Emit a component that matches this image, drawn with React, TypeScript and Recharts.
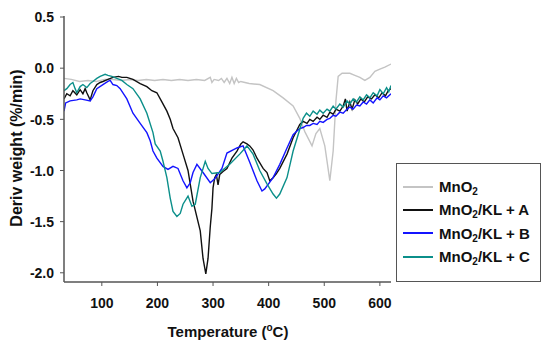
import React from "react";
import { LineChart, Line, XAxis, YAxis } from "recharts";

// Temperature (°C) / Deriv weight (%/min)
const mno2T = [32, 45, 60, 75, 90, 105, 120, 135, 150, 165, 180, 195, 210, 225, 240, 255, 270, 285, 295, 298, 302, 310, 315, 320, 325, 330, 334, 338, 342, 346, 350, 365, 384, 408, 426, 444, 456, 465, 478, 485, 492, 501, 510, 516, 521, 525, 532, 546, 555, 564, 573, 582, 591, 600, 609, 620];
const mno2V = [-0.10, -0.11, -0.13, -0.12, -0.13, -0.11, -0.11, -0.12, -0.11, -0.12, -0.11, -0.12, -0.11, -0.12, -0.11, -0.12, -0.11, -0.12, -0.09, -0.14, -0.11, -0.12, -0.10, -0.14, -0.10, -0.15, -0.09, -0.15, -0.10, -0.14, -0.13, -0.15, -0.16, -0.22, -0.29, -0.37, -0.49, -0.62, -0.76, -0.64, -0.59, -0.76, -1.10, -0.81, -0.32, -0.08, -0.05, -0.05, -0.07, -0.09, -0.12, -0.09, -0.03, -0.01, 0.01, 0.04];

const aT = [32, 37, 43, 48, 55, 61, 66, 70, 73, 79, 84, 91, 97, 102, 111, 120, 130, 136, 145, 156, 169, 181, 190, 199, 208, 217, 223, 228, 237, 246, 255, 264, 277, 282, 287, 291, 295, 298, 300, 303, 306, 309, 312, 318, 325, 334, 343, 350, 354, 361, 366, 372, 379, 390, 397, 402, 408, 414, 420, 433, 444, 456, 462, 469, 474, 480, 487, 492, 498, 505, 510, 516, 521, 528, 534, 538, 541, 546, 550, 555, 560, 566, 572, 578, 585, 591, 598, 604, 610, 615, 620];
const aV = [-0.30, -0.25, -0.27, -0.22, -0.26, -0.21, -0.25, -0.20, -0.24, -0.31, -0.22, -0.16, -0.14, -0.13, -0.11, -0.09, -0.08, -0.09, -0.09, -0.11, -0.15, -0.18, -0.22, -0.24, -0.33, -0.42, -0.50, -0.59, -0.68, -0.84, -1.00, -1.30, -1.59, -1.86, -2.01, -1.86, -1.55, -1.37, -1.17, -1.07, -1.04, -1.14, -1.04, -1.01, -0.98, -0.88, -0.81, -0.74, -0.72, -0.74, -0.76, -0.80, -0.88, -0.98, -1.02, -1.10, -1.07, -1.03, -0.98, -0.84, -0.68, -0.55, -0.52, -0.54, -0.50, -0.52, -0.48, -0.50, -0.46, -0.48, -0.43, -0.45, -0.40, -0.42, -0.37, -0.30, -0.42, -0.33, -0.40, -0.31, -0.35, -0.30, -0.33, -0.28, -0.30, -0.26, -0.29, -0.24, -0.27, -0.22, -0.20];

const bT = [32, 35, 43, 55, 61, 70, 79, 84, 91, 102, 111, 115, 120, 127, 133, 145, 156, 169, 181, 187, 192, 199, 210, 219, 228, 237, 246, 253, 259, 264, 271, 282, 295, 303, 316, 325, 343, 354, 366, 379, 388, 393, 408, 420, 433, 444, 450, 456, 462, 468, 474, 480, 487, 492, 498, 505, 510, 516, 521, 528, 534, 541, 546, 552, 558, 564, 570, 576, 582, 588, 595, 600, 606, 612, 620];
const bV = [-0.42, -0.34, -0.32, -0.31, -0.30, -0.31, -0.32, -0.28, -0.20, -0.16, -0.13, -0.12, -0.16, -0.17, -0.20, -0.30, -0.44, -0.54, -0.63, -0.71, -0.81, -0.88, -0.96, -0.99, -0.96, -0.98, -1.10, -1.17, -1.12, -1.02, -0.94, -1.02, -1.12, -1.08, -0.98, -0.83, -0.78, -0.76, -0.92, -1.10, -1.20, -1.18, -1.07, -0.94, -0.78, -0.65, -0.62, -0.59, -0.58, -0.56, -0.56, -0.54, -0.55, -0.52, -0.53, -0.50, -0.49, -0.46, -0.47, -0.43, -0.44, -0.40, -0.38, -0.40, -0.36, -0.37, -0.33, -0.35, -0.31, -0.34, -0.29, -0.31, -0.27, -0.29, -0.25];

const cT = [32, 37, 43, 48, 52, 55, 61, 66, 73, 79, 84, 91, 97, 106, 111, 118, 127, 136, 145, 156, 169, 181, 192, 196, 205, 210, 217, 223, 228, 235, 241, 246, 255, 262, 268, 277, 286, 291, 298, 312, 330, 348, 361, 372, 384, 397, 408, 414, 420, 433, 444, 453, 462, 468, 474, 480, 487, 492, 498, 505, 510, 516, 521, 528, 534, 541, 546, 552, 558, 564, 570, 576, 582, 588, 595, 600, 606, 612, 616, 620];
const cV = [-0.22, -0.20, -0.16, -0.14, -0.20, -0.24, -0.18, -0.16, -0.19, -0.15, -0.13, -0.10, -0.08, -0.06, -0.07, -0.08, -0.10, -0.12, -0.16, -0.20, -0.30, -0.44, -0.63, -0.74, -0.81, -0.91, -1.07, -1.27, -1.40, -1.45, -1.42, -1.33, -1.25, -1.35, -1.33, -1.07, -0.91, -0.98, -1.03, -1.02, -0.94, -0.84, -0.76, -0.84, -1.00, -1.13, -1.23, -1.27, -1.23, -1.07, -0.81, -0.65, -0.49, -0.44, -0.47, -0.42, -0.45, -0.41, -0.44, -0.40, -0.42, -0.37, -0.40, -0.35, -0.38, -0.32, -0.35, -0.30, -0.33, -0.28, -0.31, -0.26, -0.29, -0.24, -0.27, -0.21, -0.25, -0.19, -0.23, -0.17];

const xTicks = [100, 200, 300, 400, 500, 600];
const yTicks = [0.5, 0.0, -0.5, -1.0, -1.5, -2.0];

const zip = (t: number[], v: number[]) => t.map((x, i) => ({ t: x, v: v[i] }));

const series = [
  { key: "mno2", data: zip(mno2T, mno2V), color: "#c4c4c4", label: "MnO", suffix: "" },
  { key: "a", data: zip(aT, aV), color: "#111111", label: "MnO", suffix: "/KL + A" },
  { key: "b", data: zip(bT, bV), color: "#1414ff", label: "MnO", suffix: "/KL + B" },
  { key: "c", data: zip(cT, cV), color: "#0b8f8a", label: "MnO", suffix: "/KL + C" },
];

const FONT = "'Liberation Sans', Arial, sans-serif";
const AXIS = "#555555";
const TEXT = "#111111";

const LegendBox = () => (
  <div
    style={{
      position: "absolute",
      left: 396,
      top: 163,
      width: 145,
      height: 119,
      border: `1.5px solid ${AXIS}`,
      boxSizing: "border-box",
      background: "#fff",
      paddingTop: 11,
      fontFamily: FONT,
    }}
  >
    {series.map((s) => (
      <div key={s.key} style={{ display: "flex", alignItems: "center", height: 23.3 }}>
        <div style={{ width: 30, height: 2, background: s.color, marginLeft: 6, marginRight: 6 }} />
        <span style={{ fontWeight: "bold", fontSize: 15, color: TEXT, whiteSpace: "nowrap", lineHeight: "17px" }}>
          {s.label}
          <sub style={{ fontSize: 10, verticalAlign: "-3px", lineHeight: 0 }}>2</sub>
          {s.suffix}
        </span>
      </div>
    ))}
  </div>
);

const XTitle = () => (
  <text x={228} y={337} textAnchor="middle" fontFamily={FONT} fontWeight="bold" fontSize={15} fill={TEXT}>
    Temperature (
    <tspan fontSize={10} dy={-6}>o</tspan>
    <tspan dy={6}>C)</tspan>
  </text>
);

const YTitle = () => (
  <text
    x={22}
    y={148}
    transform="rotate(-90, 22, 148)"
    textAnchor="middle"
    fontFamily={FONT}
    fontWeight="bold"
    fontSize={16}
    fill={TEXT}
  >
    Deriv weight (%/min)
  </text>
);

const XTick = (props: any) => {
  const { x, y, payload } = props;
  return (
    <g transform={`translate(${x},${y})`}>
      <text transform="scale(1,1.06)" textAnchor="middle" dy="0.71em" fontFamily={FONT} fontWeight="bold" fontSize={14} fill={TEXT}>
        {payload.value}
      </text>
    </g>
  );
};

const YTick = (props: any) => {
  const { x, y, payload } = props;
  return (
    <g transform={`translate(${x},${y})`}>
      <text transform="scale(1,1.06)" textAnchor="end" dy="0.355em" fontFamily={FONT} fontWeight="bold" fontSize={14} fill={TEXT}>
        {Number(payload.value).toFixed(1)}
      </text>
    </g>
  );
};

export default function App() {
  return (
    <div style={{ position: "absolute", left: 0, top: 0, width: 550, height: 353, background: "#fff" }}>
      <LineChart width={550} height={353} margin={{ top: 16, right: 159, left: 0, bottom: 0 }}>
        <XAxis
          xAxisId="main"
          dataKey="t"
          type="number"
          domain={[32, 620]}
          ticks={xTicks}
          allowDataOverflow
          height={71}
          tickSize={4}
          tickMargin={11}
          tick={<XTick />}
          stroke={AXIS}
          strokeWidth={1.5}
          tickLine={{ stroke: AXIS, strokeWidth: 1 }}
          label={<XTitle />}
        />
        <XAxis xAxisId="top" orientation="top" type="number" domain={[32, 620]} height={0} tick={false} tickLine={false} stroke={AXIS} strokeWidth={1.5} />
        <YAxis
          yAxisId="main"
          type="number"
          domain={[-2.09, 0.51]}
          ticks={yTicks}
          allowDataOverflow
          width={64}
          tickSize={4}
          tickMargin={6}
          tick={<YTick />}
          stroke={AXIS}
          strokeWidth={1.5}
          tickLine={{ stroke: AXIS, strokeWidth: 1 }}
          label={<YTitle />}
        />
        <YAxis yAxisId="right" orientation="right" type="number" domain={[-2.09, 0.51]} width={0} tick={false} tickLine={false} stroke={AXIS} strokeWidth={1.5} />
        {series.map((s) => (
          <Line
            key={s.key}
            xAxisId="main"
            yAxisId="main"
            data={s.data}
            dataKey="v"
            type="linear"
            stroke={s.color}
            strokeWidth={1.4}
            dot={false}
            isAnimationActive={false}
          />
        ))}
      </LineChart>
      <LegendBox />
    </div>
  );
}
